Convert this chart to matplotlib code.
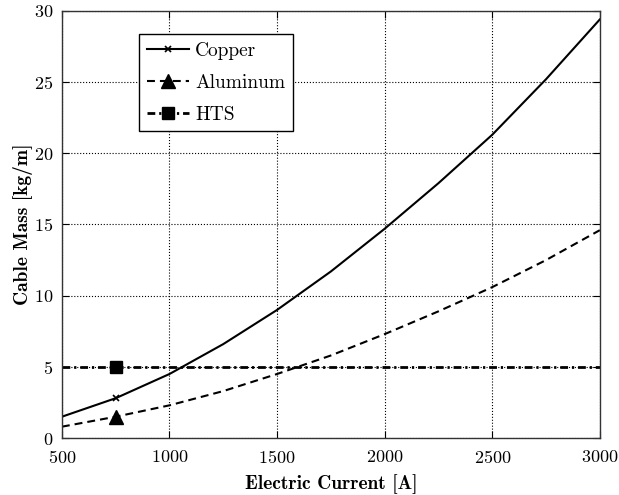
import matplotlib

matplotlib.use("Agg")
import matplotlib.pyplot as plt

# Kabelmasse je Meter ueber dem Strom
current = [500, 750, 1000, 1250, 1500, 1750, 2000, 2250, 2500, 2750, 3000]
copper = [1.5, 2.8, 4.5, 6.6, 9.0, 11.7, 14.7, 17.9, 21.3, 25.2, 29.4]
aluminum = [0.8, 1.5, 2.3, 3.3, 4.5, 5.8, 7.3, 8.9, 10.6, 12.5, 14.6]
hts = [5.0] * len(current)

plt.rcParams["font.family"] = "cmr10"
plt.rcParams["axes.formatter.use_mathtext"] = True

fig = plt.figure(figsize=(6.19, 4.95), dpi=100)
ax = fig.add_axes([0.100, 0.115, 0.869, 0.863])

mark = [1]  # Marker nur bei 750 A
ax.plot(current, copper, "k-", lw=1.5, marker="x", markevery=mark,
        markersize=5, mew=1.2, label="Copper")
ax.plot(current, aluminum, color="k", lw=1.5, dashes=(3.8, 2.4),
        marker="^", markevery=mark, markersize=10, label="Aluminum")
ax.plot(current, hts, color="k", lw=2.0, dashes=(2.8, 1.4, 0.8, 1.4),
        marker="s", markevery=mark, markersize=8, label="HTS")

ax.set_xlim(500, 3000)
ax.set_ylim(0, 30)
ax.set_xticks(range(500, 3001, 500))
ax.set_yticks(range(0, 31, 5))
ax.grid(True, color="k", linestyle=":", linewidth=0.8)
ax.tick_params(direction="in", top=True, right=True, labelsize=13,
               length=5, width=0.8)
ax.tick_params(axis="x", pad=8)
ax.tick_params(axis="y", pad=6)
for s in ax.spines.values():
    s.set_linewidth(1.0)
    s.set_color("#333333")

ax.set_xlabel("Electric Current [A]", fontsize=14, fontfamily="cmb10",
              labelpad=6)
ax.set_ylabel("Cable Mass [kg/m]", fontsize=14, fontfamily="cmb10",
              labelpad=1)

leg = ax.legend(loc="upper left", bbox_to_anchor=(0.143, 0.946),
                borderaxespad=0, fontsize=14, fancybox=False,
                edgecolor="k", handlelength=2.2, handletextpad=0.3,
                borderpad=0.4, labelspacing=0.72, framealpha=1)
leg.get_frame().set_linewidth(1.0)

fig.savefig("out.png", dpi=100)
